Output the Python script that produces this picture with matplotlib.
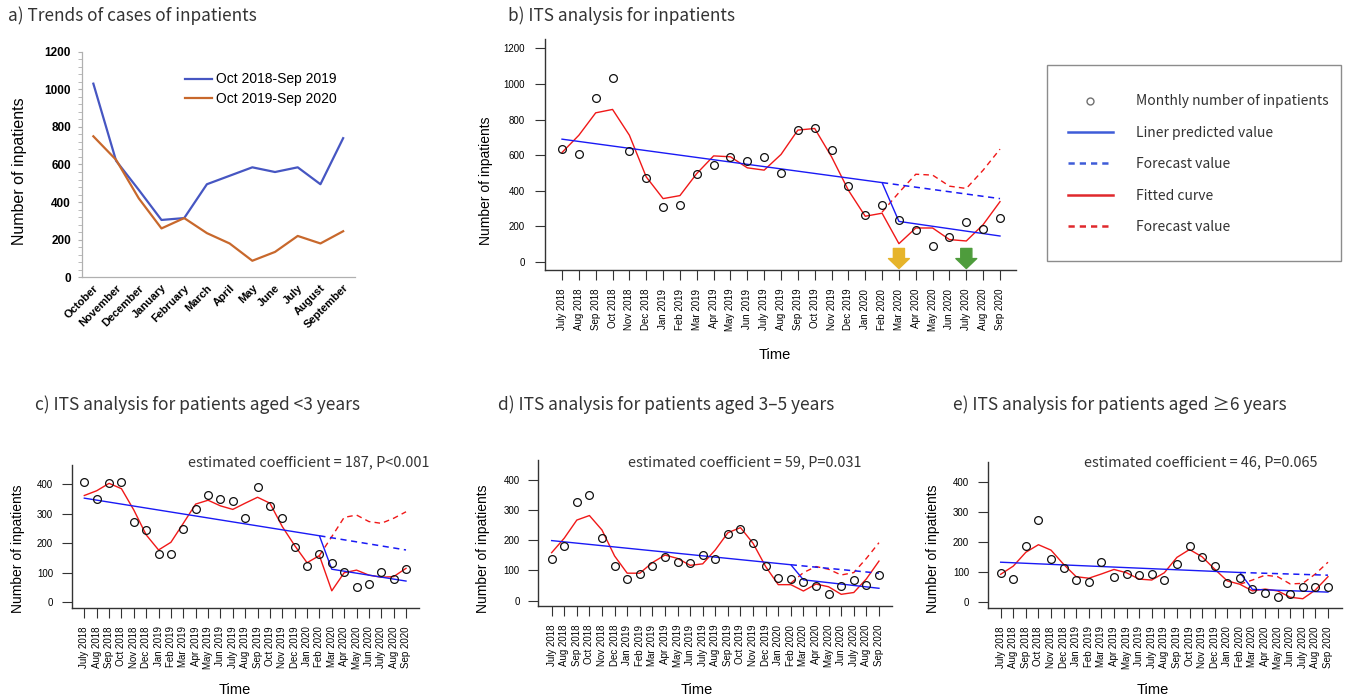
import numpy as np
import matplotlib
matplotlib.use("Agg")
import matplotlib.pyplot as plt
from matplotlib.lines import Line2D
from matplotlib.patches import Rectangle

# ---- data ----
month_names = ["October", "November", "December", "January", "February", "March",
               "April", "May", "June", "July", "August", "September"]
cases_2018_19 = [1030, 620, 465, 305, 315, 495, 540, 585, 560, 585, 495, 740]
cases_2019_20 = [750, 625, 420, 260, 315, 235, 180, 88, 135, 220, 180, 245]

months = ["July 2018", "Aug 2018", "Sep 2018", "Oct 2018", "Nov 2018", "Dec 2018",
          "Jan 2019", "Feb 2019", "Mar 2019", "Apr 2019", "May 2019", "Jun 2019",
          "July 2019", "Aug 2019", "Sep 2019", "Oct 2019", "Nov 2019", "Dec 2019",
          "Jan 2020", "Feb 2020", "Mar 2020", "Apr 2020", "May 2020", "Jun 2020",
          "July 2020", "Aug 2020", "Sep 2020"]
forecast_months = months[19:]                       # Feb 2020 - Sep 2020
trend_months = ["July 2018", "Feb 2020", "Mar 2020", "Sep 2020"]
trend_fc_months = ["Feb 2020", "Sep 2020"]

# b) all inpatients
all_obs = [635, 609, 922, 1031, 626, 474, 307, 320, 497, 544, 589, 566, 589, 499,
           741, 754, 628, 426, 262, 319, 238, 182, 90, 141, 225, 184, 249]
all_fit = [615, 712, 838, 857, 712, 478, 356, 373, 497, 596, 591, 529, 516, 604,
           741, 750, 591, 403, 257, 274, 103, 191, 191, 126, 118, 210, 339]
all_fc = [280, 390, 493, 488, 426, 413, 516, 634]
all_trend = [690, 446, 228, 146]
all_trend_fc = [446, 356]

# c) aged <3 years
u3_obs = [406, 349, 403, 407, 273, 243, 162, 163, 247, 315, 364, 349, 341, 286,
          390, 327, 284, 187, 124, 163, 132, 103, 51, 62, 103, 80, 114]
u3_fit = [361, 377, 402, 384, 312, 228, 177, 203, 267, 332, 345, 326, 314, 335,
          355, 335, 256, 192, 134, 158, 39, 100, 109, 92, 85, 87, 115]
u3_fc = [158, 222, 287, 295, 273, 267, 284, 306]
u3_trend = [352, 225, 112, 72]
u3_trend_fc = [225, 177]

# d) aged 3-5 years
a35_obs = [137, 182, 328, 349, 206, 115, 73, 88, 114, 143, 127, 124, 152, 139,
           220, 238, 190, 116, 74, 73, 61, 50, 23, 50, 69, 53, 84]
a35_fit = [159, 207, 267, 282, 234, 148, 91, 91, 126, 151, 140, 117, 122, 168,
           225, 242, 190, 113, 53, 53, 32, 55, 46, 21, 27, 72, 131]
a35_fc = [58, 93, 113, 104, 85, 93, 140, 192]
a35_trend = [199, 119, 69, 41]
a35_trend_fc = [119, 91]

# e) aged >=6 years
o6_obs = [96, 76, 188, 273, 145, 113, 73, 69, 134, 83, 95, 92, 95, 74,
          128, 186, 150, 122, 63, 80, 43, 32, 18, 29, 52, 52, 52]
o6_fit = [93, 120, 166, 191, 173, 126, 85, 80, 94, 109, 98, 77, 74, 98,
          149, 175, 151, 110, 71, 60, 38, 44, 38, 17, 12, 41, 85]
o6_fc = [60, 74, 90, 85, 61, 63, 94, 133]
o6_trend = [133, 99, 43, 34]
o6_trend_fc = [99, 90]

# ---- style ----
W, H = 1345, 699
RED = "#F01818"
BLUE = "#1A1AF5"
JP = ["Noto Sans CJK JP", "DejaVu Sans"]
plt.rcParams["font.family"] = ["Liberation Sans", "DejaVu Sans"]

fig = plt.figure(figsize=(W / 100, H / 100), dpi=100)


def px_axes(l, t, r, b):
    return fig.add_axes([l / W, 1 - b / H, (r - l) / W, (b - t) / H])


def px_text(x, y, s, **kw):
    return fig.text(x / W, 1 - y / H, s, **kw)


# ---- a) trends ----
ax_a = px_axes(82, 51.7, 354.5, 277.3)
ax_a.plot(month_names, cases_2018_19, color="#4656C2", lw=1.6, label="Oct 2018-Sep 2019")
ax_a.plot(month_names, cases_2019_20, color="#C8682C", lw=1.6, label="Oct 2019-Sep 2020")
ax_a.set_xlim(-0.5, 11.5)
ax_a.set_ylim(0, 1200)
ax_a.set_yticks(range(0, 1201, 200))
ax_a.set_yticks(range(0, 1201, 40), minor=True)
for s in ["top", "right"]:
    ax_a.spines[s].set_visible(False)
for s in ["left", "bottom"]:
    ax_a.spines[s].set_color("#B0B0B0")
    ax_a.spines[s].set_linewidth(0.9)
ax_a.tick_params(axis="y", which="both", length=3, color="#B0B0B0", labelsize=8.5, pad=5)
ax_a.tick_params(axis="x", length=0, labelsize=8, pad=4)
for lab in ax_a.get_yticklabels():
    lab.set_fontweight("bold")
for lab in ax_a.get_xticklabels():
    lab.set_fontweight("bold")
    lab.set_rotation(45)
    lab.set_ha("right")
    lab.set_rotation_mode("anchor")
ax_a.legend(loc="upper left", bbox_to_anchor=(172 / W, 1 - 60 / H), bbox_transform=fig.transFigure,
            frameon=False, fontsize=10, handlelength=2.0, handletextpad=0.25, labelspacing=0.4)
px_text(20, 171, "Number of inpatients", rotation=90, fontsize=11.5, ha="center", va="center")
px_text(8, 16, "a) Trends of cases of inpatients", family=JP, fontsize=12.4, color="#333333",
        va="center")


# ---- ITS panels ----
def its_panel(ax, obs, fit, fc, trend, trend_fc, ylim, yticks, xlim):
    ax.plot(months, fit, color=RED, lw=1.0)
    ax.plot(forecast_months, fc, color=RED, lw=1.0, ls=(0, (4, 3)))
    ax.plot(trend_months, trend, color=BLUE, lw=1.0)
    ax.plot(trend_fc_months, trend_fc, color=BLUE, lw=1.1, ls=(0, (4, 3)))
    ax.plot(months, obs, "o", mfc="none", mec="#111111", ms=5.6, mew=0.9)
    ax.set_xlim(*xlim)
    ax.set_ylim(*ylim)
    ax.set_yticks(yticks)
    ax.set_xticks(range(len(months)))
    ax.set_xticklabels(months, rotation=90)
    for s in ["top", "right"]:
        ax.spines[s].set_visible(False)
    for s in ["left", "bottom"]:
        ax.spines[s].set_color("#333333")
        ax.spines[s].set_linewidth(1.0)
    ax.tick_params(axis="both", length=7.5, width=0.8, color="#333333", labelsize=7, pad=6)


ax_b = px_axes(545, 39.3, 1016, 270)
its_panel(ax_b, all_obs, all_fit, all_fc, all_trend, all_trend_fc,
          (-45, 1251), range(0, 1201, 200), (-1.01, 26.95))
ax_b.tick_params(axis="y", pad=7)
# intervention arrows
for m, col in [("Mar 2020", "#E6B42A"), ("July 2020", "#4E9C3C")]:
    xi = months.index(m)
    ax_b.annotate("", xy=(xi, -37), xytext=(xi, 76), annotation_clip=False,
                  arrowprops=dict(arrowstyle="simple,head_length=0.72,head_width=1.5,tail_width=0.8",
                                  color=col, shrinkA=0, shrinkB=0, mutation_scale=10))
px_text(486, 181, "Number of inpatients", rotation=90, fontsize=10, ha="center", va="center")
px_text(775, 355, "Time", fontsize=10.5, ha="center", va="center")
px_text(508, 16, "b) ITS analysis for inpatients", family=JP, fontsize=12.4, color="#333333",
        va="center")

# legend for b
fig.patches.append(Rectangle((1047 / W, 1 - 261 / H), 294 / W, 196 / H, transform=fig.transFigure,
                             facecolor="none", edgecolor="#8C8C8C", lw=1.0))
leg_handles = [
    Line2D([], [], ls="none", marker="o", ms=5, mfc="none", mec="#707070", mew=1.0),
    Line2D([], [], color="#3E5CD8", lw=1.8),
    Line2D([], [], color="#3E5CD8", lw=1.8, ls=(0, (2.5, 2))),
    Line2D([], [], color="#E0282C", lw=1.8),
    Line2D([], [], color="#E0282C", lw=1.8, ls=(0, (2.5, 2))),
]
leg_labels = ["Monthly number of inpatients", "Liner predicted value", "Forecast value",
              "Fitted curve", "Forecast value"]
fig.legend(leg_handles, leg_labels, loc="upper left", bbox_to_anchor=(1055 / W, 1 - 82 / H),
           frameon=False, prop={"family": JP, "size": 10}, labelcolor="#333333",
           handlelength=3.3, handletextpad=1.6, labelspacing=1.25)

panels = [
    (px_axes(71.7, 465, 419, 607.7), u3_obs, u3_fit, u3_fc, u3_trend, u3_trend_fc,
     (-18, 464), (-1.02, 27.05), 35, "c) ITS analysis for patients aged <3 years",
     430, "estimated coefficient = 187, P<0.001", 18, 235),
    (px_axes(538.3, 460, 892.3, 606), a35_obs, a35_fit, a35_fc, a35_trend, a35_trend_fc,
     (-17.7, 466), (-1.06, 27.06), 498, "d) ITS analysis for patients aged 3\u20135 years",
     861, "estimated coefficient = 59, P=0.031", 483, 697),
    (px_axes(987.7, 461.7, 1341.7, 607.7), o6_obs, o6_fit, o6_fc, o6_trend, o6_trend_fc,
     (-17.7, 466), (-1.03, 27.09), 953, "e) ITS analysis for patients aged \u22656 years",
     1318, "estimated coefficient = 46, P=0.065", 933, 1153),
]
for (ax, obs, fit, fc, tr, trfc, yl, xl, tx, title, nx, note, ylx, timex) in panels:
    its_panel(ax, obs, fit, fc, tr, trfc, yl, range(0, 401, 100), xl)
    px_text(tx, 405, title, family=JP, fontsize=12.5, color="#333333", va="center")
    px_text(nx, 462, note, family=JP, fontsize=10.4, color="#333333", ha="right", va="center")
    px_text(ylx, 549, "Number of inpatients", rotation=90, fontsize=10, ha="center", va="center")
    px_text(timex, 690, "Time", fontsize=10.5, ha="center", va="center")

fig.savefig("out.png", dpi=100)
